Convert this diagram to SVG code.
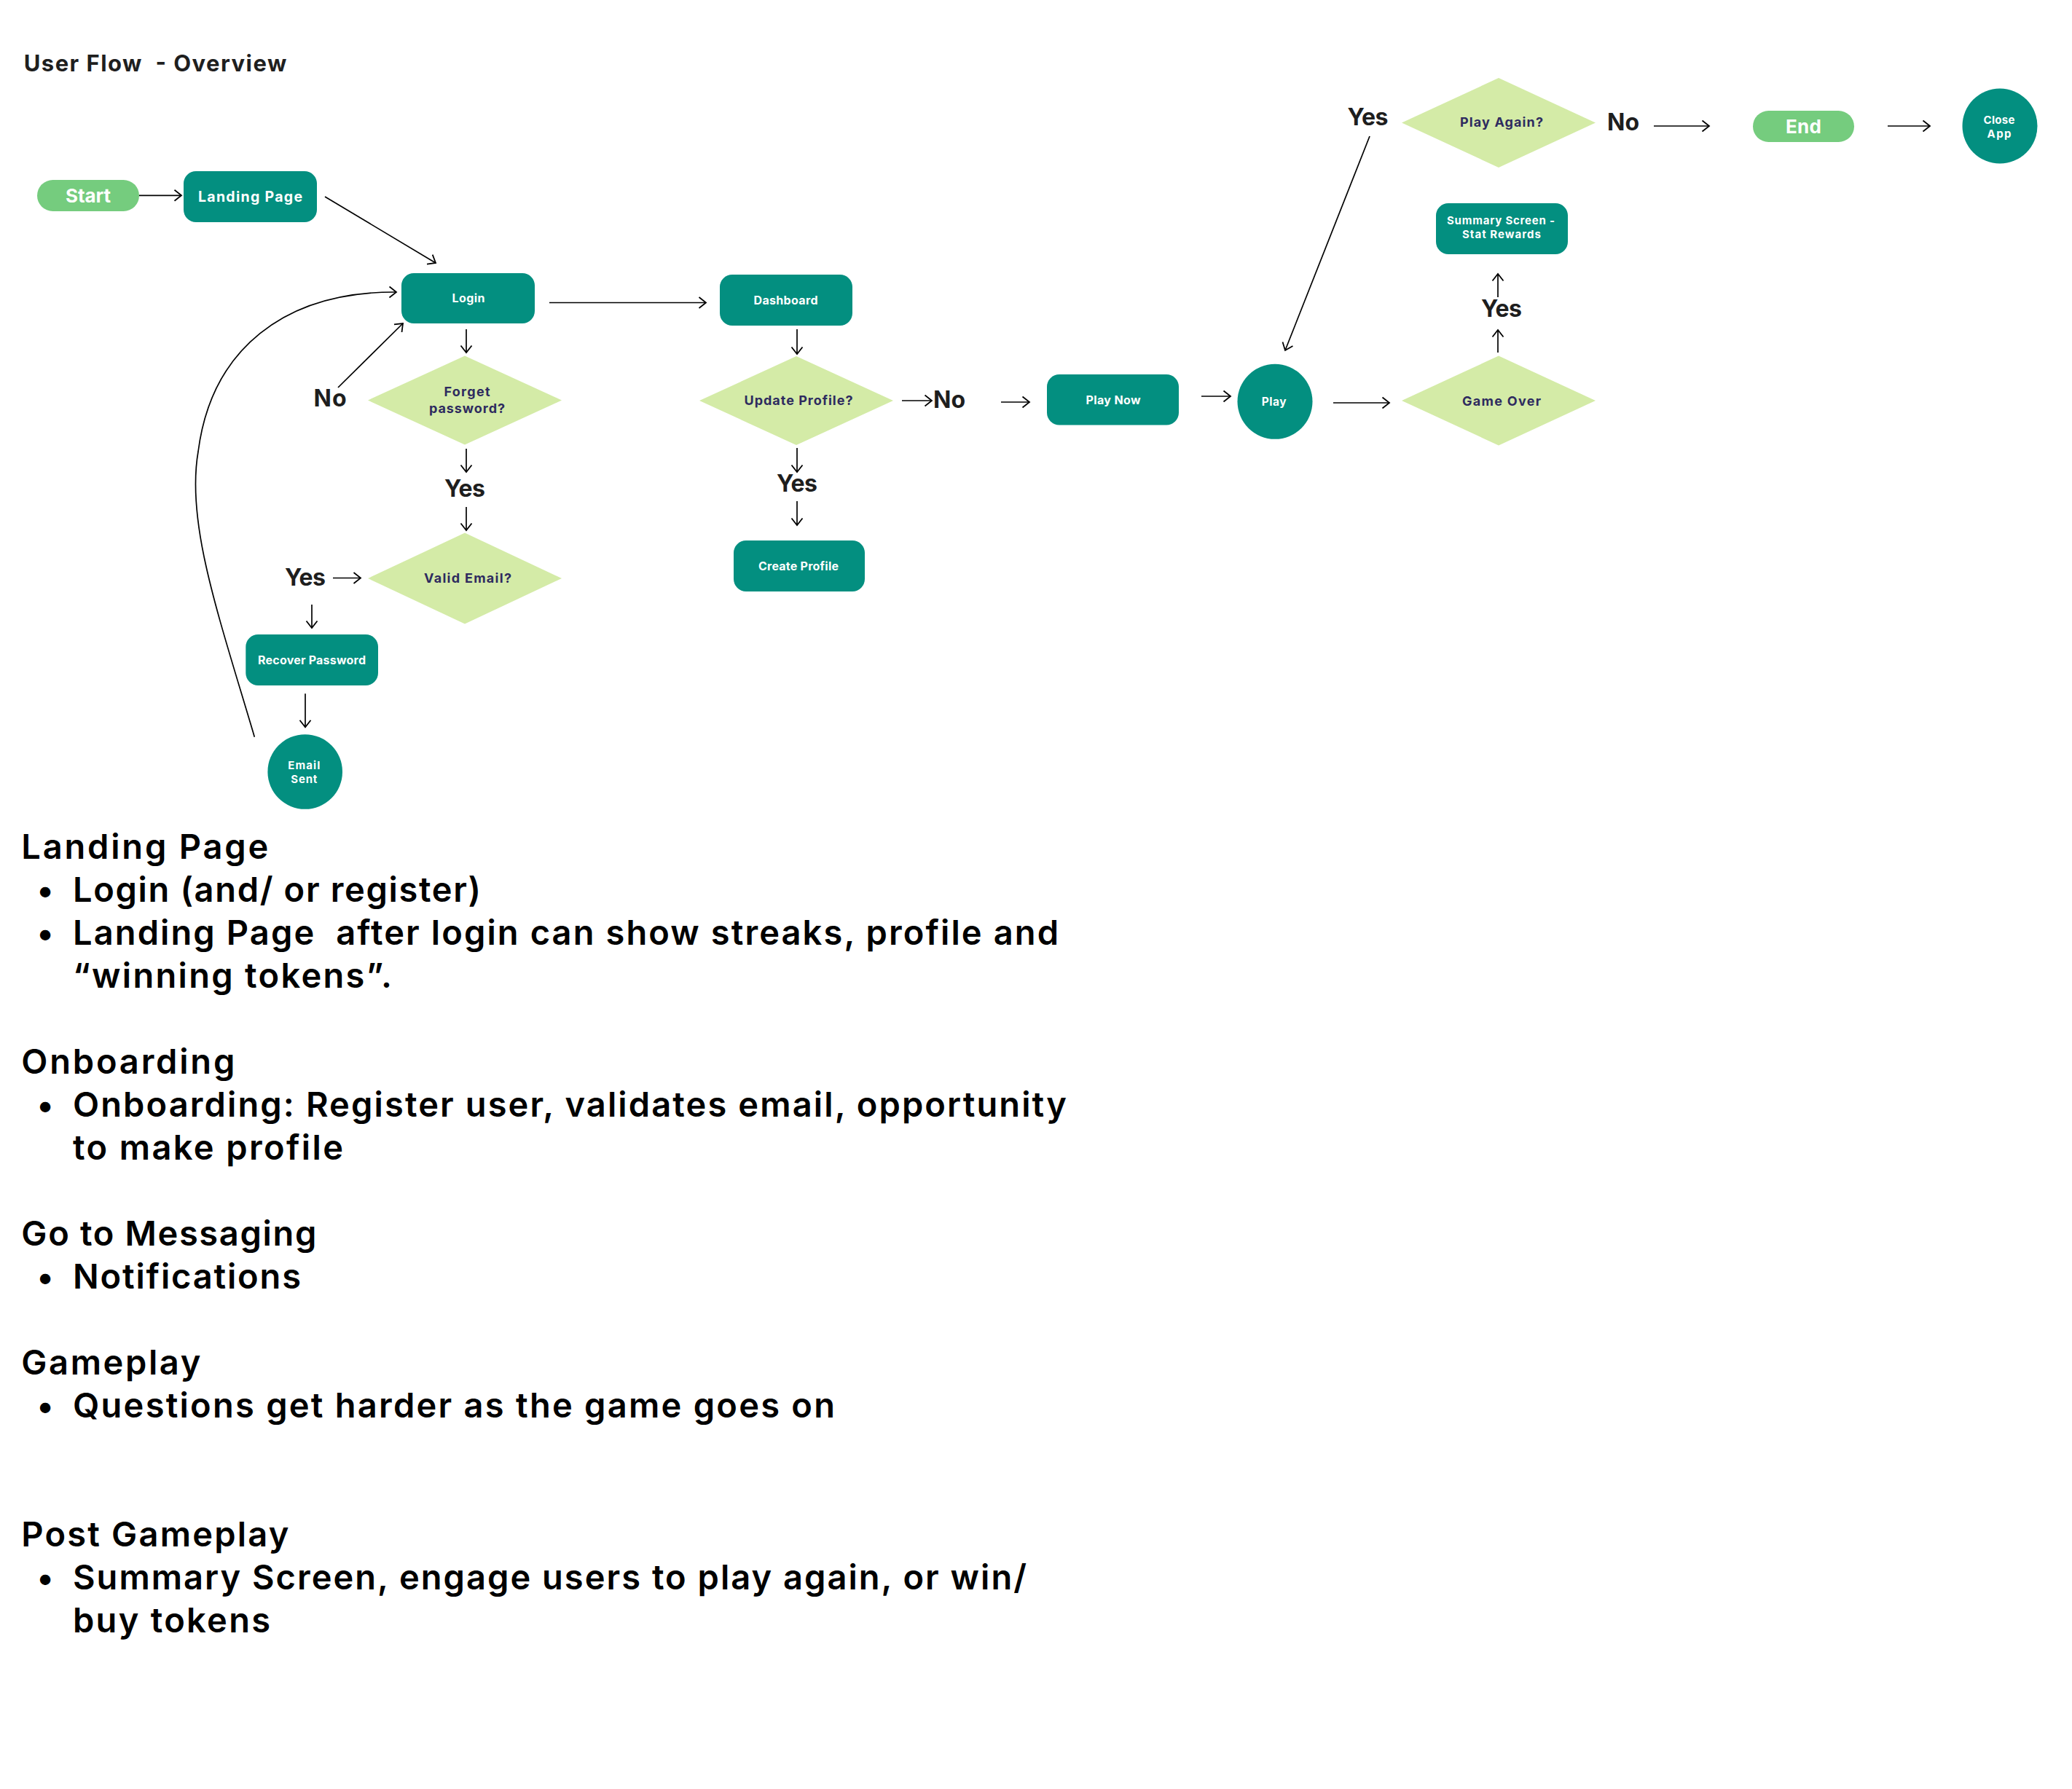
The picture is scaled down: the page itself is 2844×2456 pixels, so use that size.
<svg xmlns="http://www.w3.org/2000/svg" width="2844" height="2456" viewBox="0 0 2844 2456">
<defs>
<marker id="ah" markerUnits="userSpaceOnUse" markerWidth="14" markerHeight="20" viewBox="-2 -2 14 20" refX="9.5" refY="7.5" orient="auto"><path d="M0,0 L9.5,7.5 L0,15" fill="none" stroke="#000" stroke-width="1.8"/></marker>
<style>
.box{fill:#038F80}
.pill{fill:#75CC7E}
.dia{fill:#D4EBA7}
.nt{font-family:Inter,"Open Sans","Liberation Sans",sans-serif;font-weight:700;fill:#FFFFFF;text-anchor:middle}
.dt{font-family:Inter,"Open Sans","Liberation Sans",sans-serif;font-weight:700;fill:#2E2B5F;text-anchor:middle;font-size:18px}
.lb{font-family:Inter,"Open Sans","Liberation Sans",sans-serif;font-weight:700;fill:#1E1E1E;text-anchor:middle;font-size:32px}
.ttl{font-family:Inter,"Open Sans","Liberation Sans",sans-serif;font-weight:700;fill:#1F1F1F;font-size:31px}
.body{font-family:Inter,"Open Sans","Liberation Sans",sans-serif;font-weight:600;fill:#000000;font-size:47px}
.bul{font-family:Inter,"Open Sans","Liberation Sans",sans-serif;font-weight:600;fill:#000000;font-size:46px;text-anchor:middle}
.cn path{fill:none;stroke:#000;stroke-width:1.7;marker-end:url(#ah)}
</style>
</defs>
<rect width="2844" height="2456" fill="#FFFFFF"/>

<text class="ttl" x="32.7" y="98.3" textLength="360.6" lengthAdjust="spacing" xml:space="preserve">User Flow  - Overview</text>

<g id="connectors" class="cn">
<path d="M191,268.3 L249,268.3"/>
<path d="M446,270 L598,361"/>
<path d="M640,452 L640,484"/>
<path d="M640,616 L640,648"/>
<path d="M640,696 L640,728"/>
<path d="M464,532 L553,444"/>
<path d="M349.3,1011.7 C300,845 255,718 272,620 C290,480 390,400 544,401"/>
<path d="M754,415.5 L969,415.5"/>
<path d="M1094,452 L1094,486"/>
<path d="M1094,615 L1094,648"/>
<path d="M1094,688 L1094,721"/>
<path d="M1238,550 L1279,550"/>
<path d="M1374,552 L1413,552"/>
<path d="M1649,544 L1689,544"/>
<path d="M1830,553 L1907,553"/>
<path d="M2056,484 L2056,453"/>
<path d="M2056,408 L2056,376"/>
<path d="M1880,187 L1764,481"/>
<path d="M2270,173 L2346,173"/>
<path d="M2591,173 L2649,173"/>
<path d="M457,793.5 L495,793.5"/>
<path d="M428,830 L428,862"/>
<path d="M419,952.3 L419,998.3"/>
</g>

<g id="labels">
<text class="lb" x="453" y="558" textLength="45" lengthAdjust="spacing">No</text>
<text class="lb" x="638" y="682" textLength="56" lengthAdjust="spacing">Yes</text>
<text class="lb" x="419" y="803.5" textLength="56" lengthAdjust="spacing">Yes</text>
<text class="lb" x="1094" y="675" textLength="56" lengthAdjust="spacing">Yes</text>
<text class="lb" x="1303" y="560" textLength="44" lengthAdjust="spacing">No</text>
<text class="lb" x="2061" y="435" textLength="56" lengthAdjust="spacing">Yes</text>
<text class="lb" x="1877.5" y="172" textLength="56" lengthAdjust="spacing">Yes</text>
<text class="lb" x="2228" y="179" textLength="44" lengthAdjust="spacing">No</text>
</g>

<g id="start">
<rect class="pill" x="51" y="247" width="140" height="43" rx="21.5"/>
<text class="nt" x="121" y="278" font-size="26" textLength="62" lengthAdjust="spacing">Start</text>
</g>
<g id="landing-page">
<rect class="box" x="252" y="235" width="183" height="70" rx="17"/>
<text class="nt" x="343.5" y="277" font-size="19.5" textLength="143" lengthAdjust="spacing">Landing Page</text>
</g>
<g id="login">
<rect class="box" x="551" y="375" width="183" height="69" rx="17"/>
<text class="nt" x="643" y="415" font-size="16" textLength="45" lengthAdjust="spacing">Login</text>
</g>
<g id="forget-password">
<polygon class="dia" points="638,488.5 771,549.5 638,610.5 505,549.5"/>
<text class="dt" x="641" y="543.5" textLength="63" lengthAdjust="spacing">Forget</text>
<text class="dt" x="641" y="566.5" textLength="104" lengthAdjust="spacing">password?</text>
</g>
<g id="valid-email">
<polygon class="dia" points="638,731.5 771,794 638,856.5 505,794"/>
<text class="dt" x="642" y="799.5" textLength="120" lengthAdjust="spacing">Valid Email?</text>
</g>
<g id="recover-password">
<rect class="box" x="337.3" y="871" width="181.7" height="70" rx="17"/>
<text class="nt" x="428" y="912" font-size="16" textLength="148" lengthAdjust="spacing">Recover Password</text>
</g>
<g id="email-sent">
<circle class="box" cx="418.7" cy="1059.5" r="51.3"/>
<text class="nt" x="417.3" y="1056" font-size="15" textLength="44" lengthAdjust="spacing">Email</text>
<text class="nt" x="417.3" y="1074.5" font-size="15" textLength="36" lengthAdjust="spacing">Sent</text>
</g>
<g id="dashboard">
<rect class="box" x="988" y="377" width="182" height="70" rx="17"/>
<text class="nt" x="1078.5" y="418" font-size="16" textLength="88" lengthAdjust="spacing">Dashboard</text>
</g>
<g id="update-profile">
<polygon class="dia" points="1093,489 1226,550 1093,611 960,550"/>
<text class="dt" x="1096" y="556" textLength="149" lengthAdjust="spacing">Update Profile?</text>
</g>
<g id="create-profile">
<rect class="box" x="1007" y="742" width="180" height="70" rx="17"/>
<text class="nt" x="1096" y="783" font-size="16" textLength="110" lengthAdjust="spacing">Create Profile</text>
</g>
<g id="play-now">
<rect class="box" x="1437" y="514" width="181" height="69.5" rx="17"/>
<text class="nt" x="1528" y="555" font-size="16" textLength="75" lengthAdjust="spacing">Play Now</text>
</g>
<g id="play">
<circle class="box" cx="1750" cy="551.3" r="51.5"/>
<text class="nt" x="1748.7" y="557" font-size="15.5" textLength="34" lengthAdjust="spacing">Play</text>
</g>
<g id="game-over">
<polygon class="dia" points="2057,488.5 2190,550 2057,611.5 1924,550"/>
<text class="dt" x="2061" y="557" textLength="108" lengthAdjust="spacing">Game Over</text>
</g>
<g id="summary-screen">
<rect class="box" x="1971" y="279" width="181" height="70" rx="17"/>
<text class="nt" x="2060" y="307.5" font-size="15" textLength="148" lengthAdjust="spacing">Summary Screen -</text>
<text class="nt" x="2061" y="326.5" font-size="15" textLength="108" lengthAdjust="spacing">Stat Rewards</text>
</g>
<g id="play-again">
<polygon class="dia" points="2057,107 2190,168.5 2057,230 1924,168.5"/>
<text class="dt" x="2061" y="174" textLength="114" lengthAdjust="spacing">Play Again?</text>
</g>
<g id="end">
<rect class="pill" x="2406" y="152" width="139" height="43" rx="21.5"/>
<text class="nt" x="2475.5" y="183" font-size="26" textLength="49" lengthAdjust="spacing">End</text>
</g>
<g id="close-app">
<circle class="box" cx="2745" cy="173" r="51.5"/>
<text class="nt" x="2744" y="169.5" font-size="15" textLength="43" lengthAdjust="spacing">Close</text>
<text class="nt" x="2744" y="188.5" font-size="15" textLength="33" lengthAdjust="spacing">App</text>
</g>

<g id="notes">
<text class="body" x="29.3" y="1179.3" textLength="339" lengthAdjust="spacing">Landing Page</text>
<text class="bul" x="62" y="1238.3">•</text>
<text class="body" x="100" y="1238.3" textLength="560" lengthAdjust="spacing">Login (and/ or register)</text>
<text class="bul" x="62" y="1297.3">•</text>
<text class="body" x="100" y="1297.3" textLength="1353" lengthAdjust="spacing" xml:space="preserve">Landing Page  after login can show streaks, profile and</text>
<text class="body" x="100" y="1356.3" textLength="438" lengthAdjust="spacing">“winning tokens”.</text>

<text class="body" x="29.3" y="1474.3" textLength="293" lengthAdjust="spacing">Onboarding</text>
<text class="bul" x="62" y="1533.3">•</text>
<text class="body" x="100" y="1533.3" textLength="1364" lengthAdjust="spacing">Onboarding: Register user, validates email, opportunity</text>
<text class="body" x="100" y="1592.3" textLength="371" lengthAdjust="spacing">to make profile</text>

<text class="body" x="29.3" y="1710.3" textLength="405" lengthAdjust="spacing">Go to Messaging</text>
<text class="bul" x="62" y="1769.3">•</text>
<text class="body" x="100" y="1769.3" textLength="313" lengthAdjust="spacing">Notifications</text>

<text class="body" x="29.3" y="1887.3" textLength="246" lengthAdjust="spacing">Gameplay</text>
<text class="bul" x="62" y="1946.3">•</text>
<text class="body" x="100" y="1946.3" textLength="1046" lengthAdjust="spacing">Questions get harder as the game goes on</text>

<text class="body" x="29.3" y="2123.3" textLength="367" lengthAdjust="spacing">Post Gameplay</text>
<text class="bul" x="62" y="2182.3">•</text>
<text class="body" x="100" y="2182.3" textLength="1309" lengthAdjust="spacing">Summary Screen, engage users to play again, or win/</text>
<text class="body" x="100" y="2241.3" textLength="271" lengthAdjust="spacing">buy tokens</text>
</g>
</svg>
